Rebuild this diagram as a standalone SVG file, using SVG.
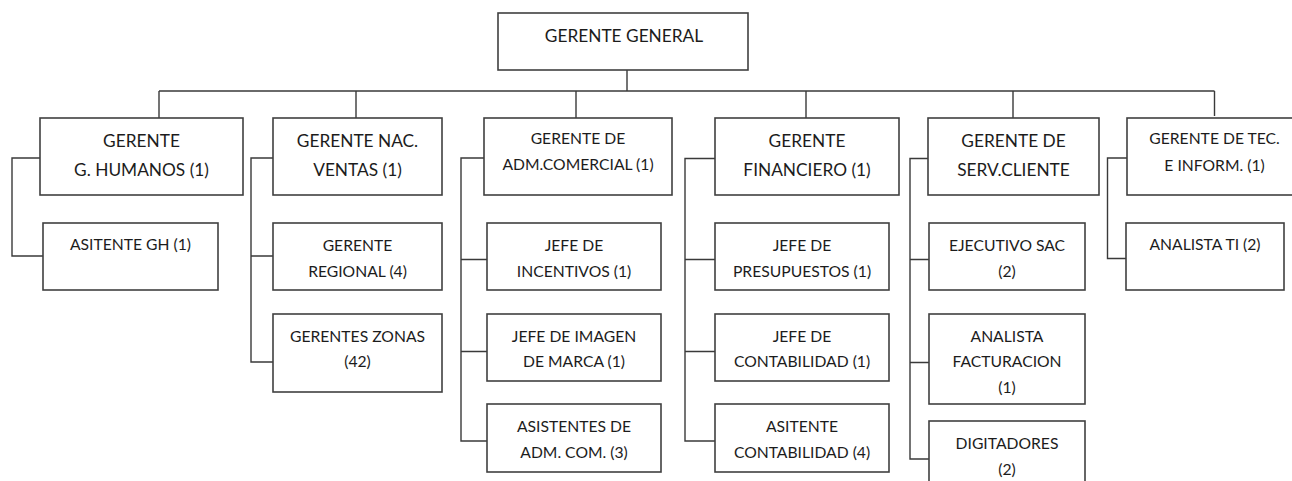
<svg xmlns="http://www.w3.org/2000/svg" width="1292" height="481" viewBox="0 0 1292 481">
  <style>
    .box { fill: #ffffff; stroke: #404040; stroke-width: 1.6; }
    .wire { fill: none; stroke: #3a3a3a; stroke-width: 1.4; }
    text { font-family: Lato, "Open Sans", "Liberation Sans", sans-serif; fill: #1c1c1c; text-anchor: middle; }
    .lg { font-size: 17.3px; }
    .sm { font-size: 15.7px; }
  </style>
  <rect width="1292" height="481" fill="#ffffff"/>

  <!-- connectors -->
  <g id="connectors">
    <path class="wire" d="M627 70 V91 M159 91 H1214.5"/>
    <path class="wire" d="M159 91 V118 M356 91 V118 M576 91 V118 M806 91 V118 M1013 91 V118 M1214.5 91 V116"/>
    <!-- Gerente G. Humanos -->
    <path class="wire" d="M40 158 H12 V256 H43"/>
    <!-- Gerente Nac. Ventas -->
    <path class="wire" d="M273 158 H251 V362 H273 M251 256 H273"/>
    <!-- Gerente de Adm. Comercial -->
    <path class="wire" d="M484 158 H461 V441 H487 M461 259.5 H487 M461 351.5 H487"/>
    <!-- Gerente Financiero -->
    <path class="wire" d="M715 158.5 H685 V441 H715 M685 259.5 H715 M685 351.5 H715"/>
    <!-- Gerente de Serv. Cliente -->
    <path class="wire" d="M928 158.5 H910 V459 H929 M910 259.5 H929 M910 362.5 H929"/>
    <!-- Gerente de Tec. e Inform. -->
    <path class="wire" d="M1127 158 H1107.5 V258.5 H1126"/>
  </g>

  <!-- top level -->
  <g id="gerente-general">
    <rect class="box" x="498" y="13" width="250" height="57"/>
    <text class="lg" x="624" y="42">GERENTE GENERAL</text>
  </g>

  <!-- second level -->
  <g id="gerente-humanos">
    <rect class="box" x="40" y="118" width="203" height="77"/>
    <text class="lg" x="141.5" y="146.5">GERENTE</text>
    <text class="lg" x="141.5" y="176">G. HUMANOS (1)</text>
  </g>
  <g id="gerente-ventas">
    <rect class="box" x="273" y="118" width="169" height="77"/>
    <text class="lg" x="357.5" y="146.5">GERENTE NAC.</text>
    <text class="lg" x="357.5" y="176">VENTAS (1)</text>
  </g>
  <g id="gerente-adm-comercial">
    <rect class="box" x="484" y="118" width="188" height="77"/>
    <text class="sm" x="578" y="144">GERENTE DE</text>
    <text class="sm" x="578" y="170">ADM.COMERCIAL (1)</text>
  </g>
  <g id="gerente-financiero">
    <rect class="box" x="715" y="118" width="184" height="77"/>
    <text class="lg" x="807" y="146.5">GERENTE</text>
    <text class="lg" x="807" y="176">FINANCIERO (1)</text>
  </g>
  <g id="gerente-serv-cliente">
    <rect class="box" x="928" y="118" width="171" height="77"/>
    <text class="lg" x="1013.5" y="146.5">GERENTE DE</text>
    <text class="lg" x="1013.5" y="176">SERV.CLIENTE</text>
  </g>
  <g id="gerente-tec-inform">
    <rect class="box" x="1127" y="118" width="176" height="77"/>
    <text class="sm" x="1214.5" y="144">GERENTE DE TEC.</text>
    <text class="sm" x="1214.5" y="170.5">E INFORM. (1)</text>
  </g>

  <!-- third level -->
  <g id="asistente-gh">
    <rect class="box" x="43" y="223" width="175" height="67"/>
    <text class="sm" x="130.5" y="249.5">ASITENTE GH (1)</text>
  </g>
  <g id="gerente-regional">
    <rect class="box" x="273" y="223" width="169" height="67"/>
    <text class="sm" x="357.5" y="250.5">GERENTE</text>
    <text class="sm" x="357.5" y="276.5">REGIONAL (4)</text>
  </g>
  <g id="gerentes-zonas">
    <rect class="box" x="273" y="314" width="169" height="78"/>
    <text class="sm" x="357.5" y="341.5">GERENTES ZONAS</text>
    <text class="sm" x="357.5" y="367">(42)</text>
  </g>
  <g id="jefe-incentivos">
    <rect class="box" x="487" y="223" width="174" height="67"/>
    <text class="sm" x="574" y="250.5">JEFE DE</text>
    <text class="sm" x="574" y="276.5">INCENTIVOS (1)</text>
  </g>
  <g id="jefe-imagen-marca">
    <rect class="box" x="487" y="314" width="174" height="67"/>
    <text class="sm" x="574" y="341.5">JEFE DE IMAGEN</text>
    <text class="sm" x="574" y="366.5">DE MARCA (1)</text>
  </g>
  <g id="asistentes-adm-com">
    <rect class="box" x="487" y="404" width="174" height="68"/>
    <text class="sm" x="574" y="431.5">ASISTENTES DE</text>
    <text class="sm" x="574" y="458">ADM. COM. (3)</text>
  </g>
  <g id="jefe-presupuestos">
    <rect class="box" x="715" y="223" width="174" height="67"/>
    <text class="sm" x="802" y="250.5">JEFE DE</text>
    <text class="sm" x="802" y="276.5">PRESUPUESTOS (1)</text>
  </g>
  <g id="jefe-contabilidad">
    <rect class="box" x="715" y="314" width="174" height="67"/>
    <text class="sm" x="802" y="341.5">JEFE DE</text>
    <text class="sm" x="802" y="367">CONTABILIDAD (1)</text>
  </g>
  <g id="asistente-contabilidad">
    <rect class="box" x="715" y="404" width="174" height="68"/>
    <text class="sm" x="802" y="431.5">ASITENTE</text>
    <text class="sm" x="802" y="458">CONTABILIDAD (4)</text>
  </g>
  <g id="ejecutivo-sac">
    <rect class="box" x="929" y="223" width="156" height="67"/>
    <text class="sm" x="1007" y="250.5">EJECUTIVO SAC</text>
    <text class="sm" x="1007" y="276.5">(2)</text>
  </g>
  <g id="analista-facturacion">
    <rect class="box" x="929" y="314" width="156" height="90"/>
    <text class="sm" x="1007" y="341.5">ANALISTA</text>
    <text class="sm" x="1007" y="367">FACTURACION</text>
    <text class="sm" x="1007" y="393">(1)</text>
  </g>
  <g id="digitadores">
    <rect class="box" x="929" y="421" width="156" height="70"/>
    <text class="sm" x="1007" y="449">DIGITADORES</text>
    <text class="sm" x="1007" y="475">(2)</text>
  </g>
  <g id="analista-ti">
    <rect class="box" x="1126" y="223" width="158" height="67"/>
    <text class="sm" x="1205" y="250">ANALISTA TI (2)</text>
  </g>
</svg>
